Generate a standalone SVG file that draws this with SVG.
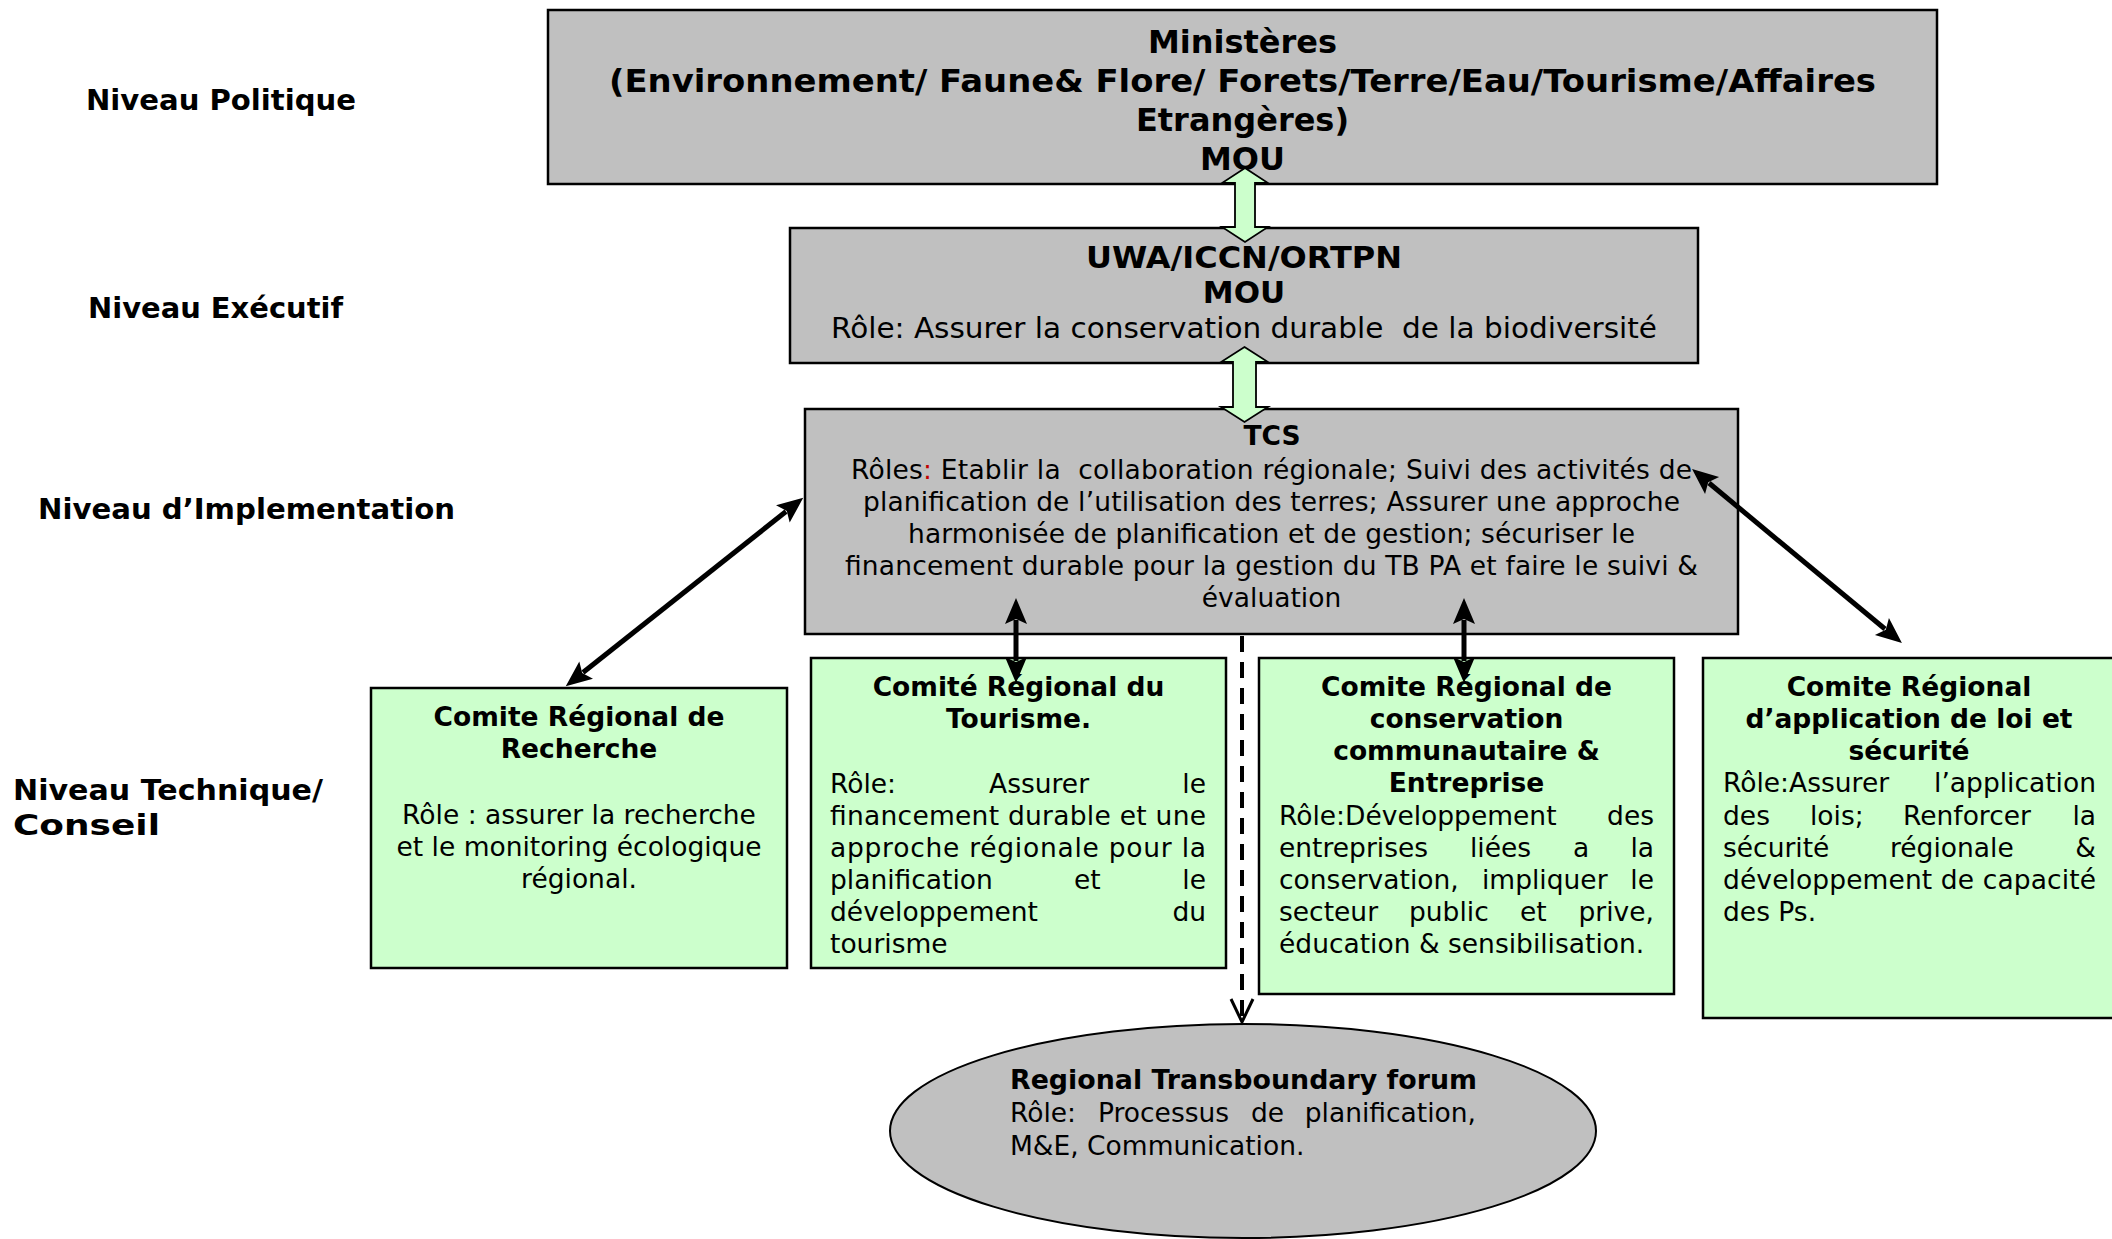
<svg xmlns="http://www.w3.org/2000/svg" width="2112" height="1239" viewBox="0 0 2112 1239">
<style>
.grey{fill:#C0C0C0;stroke:#000;stroke-width:2.5}
.green{fill:#CCFFCC;stroke:#000;stroke-width:2.5}
text{font-family:"DejaVu Sans",Verdana,sans-serif;font-size:26.5px;fill:#000}
.b{font-weight:bold}
.c{text-anchor:middle}
.pre{white-space:pre}
.lbl{font-weight:bold;font-size:29px}
.blk{stroke:#000;stroke-width:5;fill:none;marker-start:url(#ah);marker-end:url(#ah)}
.blockarrow{fill:#CCFFCC;stroke:#000;stroke-width:1.8;stroke-linejoin:miter}
</style>
<defs>
<marker id="ah" markerUnits="userSpaceOnUse" markerWidth="40" markerHeight="40" refX="0" refY="0" viewBox="-10 -15 40 30" orient="auto-start-reverse" overflow="visible">
<path d="M22,0 L-4,-11 L1,0 L-4,11 Z" fill="#000"/>
</marker>
</defs>
<rect width="2112" height="1239" fill="#fff"/>

<g id="labels">
<text class="lbl" x="86" y="110" textLength="270" lengthAdjust="spacingAndGlyphs">Niveau Politique</text>
<text class="lbl" x="88" y="318" textLength="255" lengthAdjust="spacingAndGlyphs">Niveau Exécutif</text>
<text class="lbl" x="38" y="519" textLength="417" lengthAdjust="spacingAndGlyphs">Niveau d’Implementation</text>
<text class="lbl" x="13" y="800" textLength="310" lengthAdjust="spacingAndGlyphs">Niveau Technique/</text>
<text class="lbl" x="13" y="835" textLength="147" lengthAdjust="spacingAndGlyphs">Conseil</text>
</g>

<g id="ministeres">
<rect class="grey" x="548" y="10" width="1389" height="174"/>
<text class="b c" style="font-size:32px" x="1242.5" y="53">Ministères</text>
<text class="b c" style="font-size:32px" x="1242.5" y="92" textLength="1267" lengthAdjust="spacingAndGlyphs">(Environnement/ Faune&amp; Flore/ Forets/Terre/Eau/Tourisme/Affaires</text>
<text class="b c" style="font-size:32px" x="1242.5" y="131">Etrangères)</text>
<text class="b c" style="font-size:32px" x="1242.5" y="170">MOU</text>
</g>

<g id="uwa">
<rect class="grey" x="790" y="228" width="908" height="135"/>
<text class="b c" style="font-size:31px" x="1244" y="268" textLength="316" lengthAdjust="spacingAndGlyphs">UWA/ICCN/ORTPN</text>
<text class="b c" style="font-size:31px" x="1244" y="303">MOU</text>
<text class="c pre" style="font-size:29px" x="1244" y="338" textLength="826" lengthAdjust="spacingAndGlyphs">Rôle: Assurer la conservation durable  de la biodiversité</text>
</g>

<g id="tcs">
<rect class="grey" x="805" y="409" width="933" height="225"/>
<text class="b c" x="1272" y="445">TCS</text>
<text class="c pre" x="1271.5" y="479" textLength="841" lengthAdjust="spacing">Rôles<tspan fill="#C00000">:</tspan> Etablir la  collaboration régionale; Suivi des activités de</text>
<text class="c" x="1271.5" y="511" textLength="817" lengthAdjust="spacing">planification de l’utilisation des terres; Assurer une approche</text>
<text class="c" x="1271.5" y="543" textLength="727" lengthAdjust="spacing">harmonisée de planification et de gestion; sécuriser le</text>
<text class="c" x="1271.5" y="575" textLength="853" lengthAdjust="spacing">financement durable pour la gestion du TB PA et faire le suivi &amp;</text>
<text class="c" x="1271.5" y="607">évaluation</text>
</g>

<g id="recherche">
<rect class="green" x="371" y="688" width="416" height="280"/>
<text class="b c" x="579" y="726">Comite Régional de</text>
<text class="b c" x="579" y="758">Recherche</text>
<text class="c" x="579" y="824">Rôle : assurer la recherche</text>
<text class="c" x="579" y="856">et le monitoring écologique</text>
<text class="c" x="579" y="888">régional.</text>
</g>

<g id="tourisme">
<rect class="green" x="811" y="658" width="415" height="310"/>
<text class="b c" x="1018.5" y="696">Comité Régional du</text>
<text class="b c" x="1018.5" y="728">Tourisme.</text>
<text y="793"><tspan x="830">Rôle:</tspan><tspan x="989">Assurer</tspan><tspan x="1206" text-anchor="end">le</tspan></text>
<text x="830" y="825" textLength="376" lengthAdjust="spacing">financement durable et une</text>
<text x="830" y="857" textLength="376" lengthAdjust="spacing">approche régionale pour la</text>
<text y="889"><tspan x="830">planification</tspan><tspan x="1074">et</tspan><tspan x="1206" text-anchor="end">le</tspan></text>
<text y="921"><tspan x="830">développement</tspan><tspan x="1206" text-anchor="end">du</tspan></text>
<text x="830" y="953">tourisme</text>
</g>

<g id="conservation">
<rect class="green" x="1259" y="658" width="415" height="336"/>
<text class="b c" x="1466.5" y="696">Comite Régional de</text>
<text class="b c" x="1466.5" y="728">conservation</text>
<text class="b c" x="1466.5" y="760">communautaire &amp;</text>
<text class="b c" x="1466.5" y="792">Entreprise</text>
<text y="825"><tspan x="1279">Rôle:Développement</tspan><tspan x="1654" text-anchor="end">des</tspan></text>
<text y="857"><tspan x="1279">entreprises</tspan><tspan x="1470">liées</tspan><tspan x="1573">a</tspan><tspan x="1654" text-anchor="end">la</tspan></text>
<text y="889"><tspan x="1279">conservation,</tspan><tspan x="1482">impliquer</tspan><tspan x="1654" text-anchor="end">le</tspan></text>
<text y="921"><tspan x="1279">secteur</tspan><tspan x="1409">public</tspan><tspan x="1520">et</tspan><tspan x="1654" text-anchor="end">prive,</tspan></text>
<text x="1279" y="953">éducation &amp; sensibilisation.</text>
</g>

<g id="application">
<rect class="green" x="1703" y="658" width="415" height="360"/>
<text class="b c" x="1909" y="696">Comite Régional</text>
<text class="b c" x="1909" y="728">d’application de loi et</text>
<text class="b c" x="1909" y="760">sécurité</text>
<text y="792"><tspan x="1723">Rôle:Assurer</tspan><tspan x="2096" text-anchor="end">l’application</tspan></text>
<text y="825"><tspan x="1723">des</tspan><tspan x="1810">lois;</tspan><tspan x="1903">Renforcer</tspan><tspan x="2096" text-anchor="end">la</tspan></text>
<text y="857"><tspan x="1723">sécurité</tspan><tspan x="1890">régionale</tspan><tspan x="2096" text-anchor="end">&amp;</tspan></text>
<text x="1723" y="889" textLength="373" lengthAdjust="spacing">développement de capacité</text>
<text x="1723" y="921">des Ps.</text>
</g>

<g id="forum">
<ellipse cx="1243" cy="1131" rx="353" ry="107" fill="#C0C0C0" stroke="#000" stroke-width="2"/>
<text class="b" x="1010" y="1089" textLength="467" lengthAdjust="spacingAndGlyphs">Regional Transboundary forum</text>
<text y="1122"><tspan x="1010">Rôle:</tspan><tspan x="1098">Processus</tspan><tspan x="1251">de</tspan><tspan x="1476" text-anchor="end">planification,</tspan></text>
<text x="1010" y="1155">M&amp;E, Communication.</text>
</g>

<g id="connectors">
<polygon class="blockarrow" points="1245,168 1268,183 1255,183 1255,227 1268,227 1245,242 1222,227 1235,227 1235,183 1222,183"/>
<polygon class="blockarrow" points="1244.5,347 1268,362 1256,362 1256,407 1268,407 1244.5,422 1221,407 1233,407 1233,362 1221,362"/>
<line class="blk" x1="786" y1="511.5" x2="583" y2="672.5"/>
<line class="blk" x1="1709" y1="483" x2="1885" y2="629"/>
<line class="blk" x1="1016" y1="620" x2="1016" y2="661"/>
<line class="blk" x1="1464" y1="620" x2="1464" y2="661"/>
<line x1="1242" y1="636" x2="1242" y2="1018" stroke="#000" stroke-width="4" stroke-dasharray="16 10"/>
<polyline points="1231,999 1242,1022 1253,999" fill="none" stroke="#000" stroke-width="3"/>
</g>
</svg>
